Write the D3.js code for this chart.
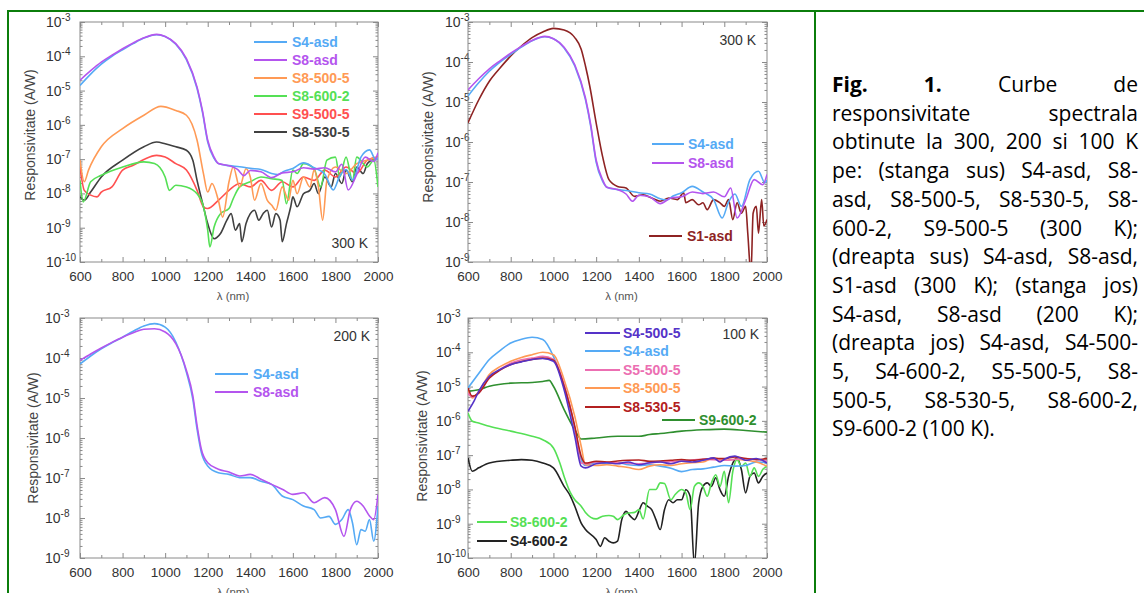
<!DOCTYPE html>
<html>
<head>
<meta charset="utf-8">
<script src="https://cdn.jsdelivr.net/npm/d3@7"></script>
<style>
  body { margin: 0; background: #fff; }
  svg { display: block; }
</style>
</head>
<body>
<div id="fig"></div>
<script>
// values are log10 of the responsivity (A/W)
// [wavelength nm, log10 R]

// ---- 300 K, shared by the two top panels
const s4asd300 = [[600,-4.85],[650,-4.52],[700,-4.23],[750,-4.0],[800,-3.81],[850,-3.63],[900,-3.47],[960,-3.37],[1000,-3.42],[1050,-3.65],[1100,-4.10],[1150,-4.94],[1175,-5.62],[1200,-6.50],[1230,-6.98],[1250,-7.13],[1300,-7.19],[1350,-7.22],[1400,-7.27],[1450,-7.30],[1500,-7.42],[1530,-7.45],[1560,-7.35],[1600,-7.27],[1650,-7.11],[1700,-7.25],[1750,-7.44],[1790,-7.90],[1820,-7.50],[1850,-7.30],[1880,-7.61],[1920,-6.94],[1960,-6.73],[1990,-7.02],[2000,-6.95]];
const s8asd300 = [[600,-4.70],[650,-4.42],[700,-4.17],[750,-3.97],[800,-3.78],[850,-3.61],[900,-3.46],[960,-3.36],[1000,-3.42],[1050,-3.63],[1100,-4.07],[1150,-4.90],[1175,-5.58],[1200,-6.45],[1230,-6.94],[1250,-7.13],[1300,-7.19],[1340,-7.30],[1370,-7.48],[1400,-7.33],[1450,-7.37],[1500,-7.54],[1550,-7.40],[1600,-7.37],[1650,-7.25],[1700,-7.29],[1750,-7.25],[1800,-7.37],[1830,-7.15],[1860,-7.90],[1900,-7.45],[1940,-6.94],[1980,-7.07],[2000,-6.81]];
const s1asd300 = [[600,-5.52],[650,-4.95],[700,-4.48],[750,-4.15],[800,-3.85],[850,-3.60],[900,-3.39],[950,-3.25],[1000,-3.16],[1050,-3.20],[1100,-3.39],[1130,-3.68],[1150,-4.10],[1170,-4.60],[1200,-5.52],[1230,-6.36],[1260,-6.94],[1300,-7.11],[1340,-7.15],[1380,-7.36],[1420,-7.32],[1460,-7.40],[1500,-7.48],[1540,-7.40],[1580,-7.44],[1610,-7.27],[1620,-7.52],[1650,-7.44],[1680,-7.57],[1700,-7.52],[1720,-7.69],[1750,-7.44],[1780,-7.52],[1800,-7.61],[1820,-7.44],[1840,-7.94],[1860,-7.52],[1880,-7.78],[1900,-7.61],[1910,-8.28],[1925,-9.3],[1935,-7.78],[1950,-7.61],[1960,-8.28],[1975,-7.44],[1985,-8.10],[2000,-7.94]];
const s8_500_5_300 = [[600,-7.03],[620,-7.66],[640,-7.32],[700,-6.64],[800,-6.11],[900,-5.72],[980,-5.46],[1050,-5.58],[1100,-5.72],[1150,-6.45],[1180,-7.42],[1200,-7.96],[1220,-7.71],[1250,-8.20],[1270,-8.69],[1300,-7.66],[1320,-7.23],[1350,-7.81],[1380,-7.28],[1400,-7.52],[1420,-8.20],[1450,-7.71],[1480,-8.20],[1500,-8.34],[1520,-8.49],[1550,-7.81],[1580,-8.20],[1600,-7.62],[1620,-8.01],[1650,-7.52],[1680,-7.81],[1700,-7.32],[1720,-7.81],[1740,-8.78],[1760,-7.62],[1800,-7.23],[1850,-7.42],[1900,-7.13],[1950,-7.03],[2000,-6.94]];
const s8_600_2_300 = [[600,-7.62],[615,-8.25],[650,-7.66],[700,-7.47],[800,-7.23],[900,-7.08],[950,-7.13],[1000,-7.52],[1020,-7.91],[1050,-7.76],[1100,-7.81],[1150,-8.01],[1180,-8.39],[1200,-9.07],[1210,-9.56],[1230,-8.98],[1260,-8.59],[1300,-8.44],[1320,-8.15],[1350,-7.81],[1400,-7.66],[1450,-7.52],[1500,-7.57],[1550,-7.62],[1570,-8.30],[1600,-7.32],[1620,-7.42],[1650,-7.13],[1700,-7.28],[1730,-7.81],[1760,-7.03],[1800,-6.94],[1820,-7.52],[1850,-6.94],[1880,-7.62],[1900,-6.94],[1950,-7.23],[1980,-7.03],[2000,-7.81]];
const s9_500_5_300 = [[600,-7.23],[620,-7.91],[650,-8.05],[680,-8.10],[700,-7.96],[750,-7.81],[800,-7.32],[850,-7.18],[900,-7.01],[960,-6.89],[1000,-6.94],[1050,-7.13],[1100,-7.32],[1150,-7.91],[1180,-8.39],[1200,-8.44],[1250,-8.20],[1300,-7.91],[1350,-7.71],[1400,-7.81],[1450,-7.62],[1500,-7.91],[1550,-7.66],[1600,-7.81],[1650,-7.52],[1700,-7.62],[1750,-7.32],[1800,-7.52],[1850,-7.23],[1900,-7.42],[1950,-7.03],[2000,-6.94]];
const s8_530_5_300 = [[600,-8.10],[620,-8.20],[650,-7.96],[700,-7.52],[800,-7.03],[900,-6.64],[960,-6.50],[1000,-6.55],[1050,-6.64],[1100,-6.74],[1130,-7.03],[1150,-7.62],[1180,-8.39],[1200,-8.88],[1230,-9.32],[1260,-9.17],[1290,-8.78],[1310,-8.59],[1330,-9.07],[1350,-8.88],[1360,-9.41],[1380,-8.88],[1400,-8.59],[1420,-8.49],[1440,-8.78],[1460,-8.59],[1480,-8.49],[1500,-8.98],[1520,-8.59],[1540,-8.78],[1550,-9.41],[1570,-8.88],[1590,-8.39],[1600,-8.10],[1620,-8.39],[1650,-8.01],[1680,-7.91],[1700,-7.71],[1720,-8.01],[1750,-7.52],[1780,-7.81],[1800,-7.42],[1830,-7.71],[1850,-7.32],[1880,-7.66],[1900,-7.23],[1930,-7.42],[1950,-7.13],[2000,-6.94]];

// ---- 200 K
const s4asd200 = [[600,-4.15],[650,-3.95],[700,-3.77],[750,-3.62],[800,-3.48],[850,-3.33],[900,-3.20],[950,-3.14],[1000,-3.23],[1050,-3.60],[1100,-4.36],[1130,-5.03],[1150,-5.78],[1170,-6.36],[1200,-6.70],[1250,-6.87],[1300,-6.91],[1350,-6.99],[1400,-6.99],[1450,-7.08],[1500,-7.16],[1550,-7.45],[1600,-7.54],[1650,-7.70],[1700,-7.79],[1730,-8.00],[1770,-7.96],[1800,-8.16],[1830,-8.04],[1860,-7.79],[1880,-8.12],[1900,-8.67],[1920,-8.29],[1940,-8.33],[1960,-8.04],[1980,-8.58],[2000,-7.70]];
const s8asd200 = [[600,-4.06],[650,-3.90],[700,-3.75],[750,-3.61],[800,-3.48],[850,-3.37],[900,-3.28],[950,-3.27],[1000,-3.35],[1050,-3.64],[1100,-4.31],[1130,-4.94],[1150,-5.69],[1170,-6.28],[1200,-6.62],[1250,-6.78],[1300,-6.85],[1350,-6.95],[1400,-6.91],[1450,-7.03],[1500,-7.16],[1550,-7.28],[1600,-7.41],[1650,-7.37],[1700,-7.62],[1750,-7.49],[1800,-7.79],[1840,-8.46],[1870,-7.79],[1900,-7.58],[1930,-7.70],[1960,-7.95],[1980,-8.04],[2000,-7.41]];

// ---- 100 K
const s4_500_5_100 = [[600,-5.72],[630,-5.40],[650,-5.14],[700,-4.70],[750,-4.50],[800,-4.36],[850,-4.28],[900,-4.21],[950,-4.18],[1000,-4.26],[1050,-5.09],[1100,-6.45],[1130,-7.32],[1150,-7.37],[1200,-7.25],[1250,-7.22],[1300,-7.25],[1350,-7.20],[1400,-7.28],[1450,-7.22],[1500,-7.20],[1550,-7.25],[1600,-7.18],[1650,-7.20],[1700,-7.15],[1750,-7.08],[1780,-7.20],[1800,-7.12],[1850,-7.03],[1880,-7.10],[1900,-7.15],[1950,-7.10],[2000,-7.23]];
const s4asd100 = [[600,-5.04],[650,-4.62],[700,-4.21],[750,-3.95],[800,-3.73],[850,-3.62],[900,-3.56],[950,-3.63],[1000,-4.12],[1050,-5.00],[1080,-5.67],[1100,-6.26],[1130,-7.13],[1150,-7.30],[1200,-7.22],[1250,-7.25],[1300,-7.22],[1350,-7.28],[1400,-7.30],[1450,-7.28],[1500,-7.32],[1550,-7.38],[1600,-7.48],[1650,-7.42],[1700,-7.40],[1750,-7.35],[1800,-7.30],[1850,-7.32],[1900,-7.30],[1950,-7.20],[2000,-7.22]];
const s5_500_5_100 = [[600,-5.19],[620,-5.30],[650,-5.19],[700,-4.75],[750,-4.50],[800,-4.32],[850,-4.22],[900,-4.17],[950,-4.12],[1000,-4.20],[1050,-4.95],[1100,-6.20],[1130,-7.23],[1150,-7.25],[1200,-7.20],[1300,-7.22],[1400,-7.25],[1500,-7.20],[1600,-7.18],[1700,-7.12],[1800,-7.15],[1900,-7.10],[2000,-7.18]];
const s8_500_5_100 = [[600,-5.09],[620,-5.33],[650,-5.15],[700,-4.65],[750,-4.42],[800,-4.26],[850,-4.15],[900,-4.07],[950,-4.00],[1000,-4.07],[1050,-4.80],[1100,-5.87],[1130,-6.74],[1150,-7.28],[1200,-7.30],[1250,-7.28],[1300,-7.32],[1350,-7.36],[1400,-7.42],[1450,-7.32],[1500,-7.28],[1550,-7.30],[1600,-7.25],[1650,-7.22],[1700,-7.20],[1750,-7.08],[1800,-7.15],[1850,-7.12],[1900,-7.15],[1950,-7.20],[2000,-7.32]];
const s8_530_5_100 = [[600,-5.04],[620,-5.28],[650,-5.19],[700,-4.75],[750,-4.52],[800,-4.36],[850,-4.27],[900,-4.21],[950,-4.17],[1000,-4.23],[1050,-4.99],[1100,-6.16],[1130,-7.03],[1150,-7.23],[1200,-7.18],[1250,-7.20],[1300,-7.17],[1350,-7.15],[1400,-7.14],[1450,-7.18],[1500,-7.17],[1550,-7.15],[1600,-7.13],[1650,-7.15],[1700,-7.12],[1750,-7.10],[1800,-7.10],[1850,-7.05],[1900,-7.10],[1950,-7.13],[2000,-7.10]];
const s9_600_2_100 = [[600,-5.14],[650,-5.09],[700,-4.99],[800,-4.90],[900,-4.88],[950,-4.85],[980,-4.82],[1000,-4.99],[1050,-5.67],[1100,-6.26],[1130,-6.53],[1200,-6.50],[1300,-6.45],[1400,-6.45],[1450,-6.40],[1500,-6.37],[1600,-6.30],[1700,-6.26],[1800,-6.24],[1900,-6.28],[2000,-6.33]];
const s8_600_2_100 = [[600,-5.77],[620,-6.01],[650,-6.06],[700,-6.16],[800,-6.30],[900,-6.45],[950,-6.55],[1000,-6.79],[1030,-7.23],[1050,-7.62],[1080,-8.10],[1100,-8.30],[1130,-8.49],[1150,-8.67],[1200,-8.86],[1230,-8.78],[1260,-8.76],[1280,-8.78],[1300,-8.88],[1330,-8.74],[1350,-8.69],[1380,-8.67],[1400,-8.59],[1420,-8.86],[1450,-8.00],[1480,-8.00],[1500,-7.81],[1520,-7.83],[1550,-8.30],[1570,-8.15],[1600,-8.00],[1620,-8.10],[1640,-8.59],[1660,-7.91],[1680,-7.81],[1700,-7.91],[1720,-8.20],[1740,-7.81],[1760,-7.57],[1780,-7.91],[1800,-7.47],[1820,-8.39],[1840,-7.47],[1860,-7.13],[1880,-7.33],[1900,-7.23],[1920,-7.62],[1940,-7.37],[1960,-7.62],[1980,-7.42],[2000,-7.33]];
const s4_600_2_100 = [[600,-7.08],[620,-7.47],[650,-7.37],[700,-7.23],[800,-7.15],[850,-7.13],[900,-7.15],[950,-7.23],[1000,-7.37],[1050,-7.91],[1080,-8.20],[1100,-8.49],[1130,-8.98],[1150,-9.17],[1200,-9.46],[1220,-9.66],[1240,-9.41],[1260,-9.51],[1280,-9.56],[1300,-9.51],[1320,-8.88],[1340,-8.64],[1360,-8.78],[1380,-8.88],[1400,-8.64],[1420,-8.39],[1440,-8.49],[1460,-8.59],[1480,-8.88],[1500,-9.17],[1520,-8.59],[1540,-8.30],[1560,-8.39],[1580,-8.30],[1600,-8.30],[1620,-8.01],[1640,-8.20],[1660,-10.2],[1680,-8.39],[1700,-7.91],[1720,-7.81],[1740,-7.91],[1760,-7.66],[1780,-8.01],[1800,-8.20],[1820,-7.62],[1840,-7.23],[1860,-7.08],[1880,-7.42],[1900,-8.10],[1920,-7.62],[1940,-7.52],[1960,-7.81],[1980,-7.62],[2000,-7.52]];

const xTicks = [600, 800, 1000, 1200, 1400, 1600, 1800, 2000];
const captionLines = [
  "Fig. 1. Curbe de",
  "responsivitate spectrala",
  "obtinute la 300, 200 si 100 K",
  "pe: (stanga sus) S4-asd, S8-",
  "asd, S8-500-5, S8-530-5, S8-",
  "600-2, S9-500-5 (300 K);",
  "(dreapta sus) S4-asd, S8-asd,",
  "S1-asd (300 K); (stanga jos)",
  "S4-asd, S8-asd (200 K);",
  "(dreapta jos) S4-asd, S4-500-",
  "5, S4-600-2, S5-500-5, S8-",
  "500-5, S8-530-5, S8-600-2,",
  "S9-600-2 (100 K)."
];

const C = {
  blue: "#55aaf5", purple: "#b455ee", orange: "#ff9a55", green: "#55e055",
  red: "#ff5050", gray: "#404040", brown: "#8e2323", indigo: "#5533c8",
  pink: "#ec6fb2", darkred: "#b32020", dgreen: "#2f8f2f", black: "#222"
};

const W = 1144, H = 593;
const svg = d3.select("#fig").append("svg").attr("width", W).attr("height", H);
const font = "'Liberation Sans', Arial, sans-serif";

const panels = [
  { x0: 80, x1: 378, y0: 22, y1: 262, minExp: -10, labX: 46, ylabX: 30, ylabY: 135, xlabY: 300,
    temp: { text: "300 K", x: 368, y: 248 },
    series: [
      { d: s8_530_5_300, c: C.gray }, { d: s9_500_5_300, c: C.red }, { d: s8_600_2_300, c: C.green },
      { d: s8_500_5_300, c: C.orange }, { d: s4asd300, c: C.blue }, { d: s8asd300, c: C.purple }
    ],
    legend: [
      { t: "S4-asd", c: C.blue, x1: 254, x2: 287, tx: 292, y: 42 },
      { t: "S8-asd", c: C.purple, x1: 254, x2: 287, tx: 292, y: 60 },
      { t: "S8-500-5", c: C.orange, x1: 254, x2: 287, tx: 292, y: 78 },
      { t: "S8-600-2", c: C.green, x1: 254, x2: 287, tx: 292, y: 96 },
      { t: "S9-500-5", c: C.red, x1: 254, x2: 287, tx: 292, y: 114 },
      { t: "S8-530-5", c: C.gray, x1: 254, x2: 287, tx: 292, y: 132 }
    ] },
  { x0: 468, x1: 767, y0: 22, y1: 262, minExp: -9, labX: 445, ylabX: 428, ylabY: 137, xlabY: 300,
    temp: { text: "300 K", x: 756, y: 45 },
    series: [
      { d: s1asd300, c: C.brown }, { d: s4asd300, c: C.blue }, { d: s8asd300, c: C.purple }
    ],
    legend: [
      { t: "S4-asd", c: C.blue, x1: 652, x2: 684, tx: 688, y: 144 },
      { t: "S8-asd", c: C.purple, x1: 652, x2: 684, tx: 688, y: 163 },
      { t: "S1-asd", c: C.brown, x1: 649, x2: 682, tx: 687, y: 236 }
    ] },
  { x0: 80, x1: 378, y0: 318, y1: 558, minExp: -9, labX: 45, ylabX: 33, ylabY: 438, xlabY: 596,
    temp: { text: "200 K", x: 370, y: 341 },
    series: [
      { d: s4asd200, c: C.blue }, { d: s8asd200, c: C.purple }
    ],
    legend: [
      { t: "S4-asd", c: C.blue, x1: 215, x2: 248, tx: 253, y: 374 },
      { t: "S8-asd", c: C.purple, x1: 215, x2: 248, tx: 253, y: 392 }
    ] },
  { x0: 468, x1: 767, y0: 318, y1: 558, minExp: -10, labX: 436, ylabX: 422, ylabY: 436, xlabY: 596,
    temp: { text: "100 K", x: 759, y: 339 },
    series: [
      { d: s4_600_2_100, c: C.black }, { d: s8_600_2_100, c: C.green }, { d: s9_600_2_100, c: C.dgreen },
      { d: s4asd100, c: C.blue }, { d: s8_500_5_100, c: C.orange }, { d: s5_500_5_100, c: C.pink },
      { d: s8_530_5_100, c: C.darkred }, { d: s4_500_5_100, c: C.indigo }
    ],
    legend: [
      { t: "S4-500-5", c: C.indigo, x1: 585, x2: 620, tx: 623, y: 333 },
      { t: "S4-asd", c: C.blue, x1: 585, x2: 620, tx: 623, y: 351 },
      { t: "S5-500-5", c: C.pink, x1: 585, x2: 620, tx: 623, y: 370 },
      { t: "S8-500-5", c: C.orange, x1: 585, x2: 620, tx: 623, y: 388 },
      { t: "S8-530-5", c: C.darkred, x1: 585, x2: 620, tx: 623, y: 407 },
      { t: "S9-600-2", c: C.dgreen, x1: 662, x2: 695, tx: 699, y: 420 },
      { t: "S8-600-2", c: C.green, x1: 477, x2: 507, tx: 510, y: 522 },
      { t: "S4-600-2", c: C.black, x1: 477, x2: 507, tx: 510, y: 541 }
    ] }
];

panels.forEach((p, i) => drawPanel(p, i));

function drawPanel(p, i) {
  const x = d3.scaleLinear().domain([600, 2000]).range([p.x0, p.x1]);
  const y = d3.scaleLog().domain([Math.pow(10, p.minExp), 1e-3]).range([p.y1, p.y0]);
  const g = svg.append("g").attr("font-family", font);

  const exps = d3.range(p.minExp, -2);
  const majorY = exps.map(e => Math.pow(10, e));
  const minorY = [];
  exps.slice(0, -1).forEach(e => { for (let k = 2; k < 10; k++) minorY.push(k * Math.pow(10, e)); });
  const minorX = d3.range(700, 2000, 200);

  const axisColor = "#8a8a8a";
  function styleAxis(a) {
    a.select(".domain").remove();
    a.selectAll(".tick line").attr("stroke", axisColor);
  }
  // ticks, all pointing inwards
  g.append("g").attr("transform", `translate(0,${p.y1})`)
    .call(d3.axisBottom(x).tickValues(xTicks).tickSize(-5).tickSizeOuter(0).tickPadding(9).tickFormat(d3.format("d")))
    .call(styleAxis)
    .call(a => a.selectAll("text").attr("fill", "#333").attr("font-size", 13.5).attr("font-family", font));
  g.append("g").attr("transform", `translate(0,${p.y1})`)
    .call(d3.axisBottom(x).tickValues(minorX).tickSize(-3).tickFormat(""))
    .call(styleAxis);
  g.append("g").attr("transform", `translate(0,${p.y0})`)
    .call(d3.axisTop(x).tickValues(xTicks).tickSize(-5).tickFormat(""))
    .call(styleAxis);
  g.append("g").attr("transform", `translate(0,${p.y0})`)
    .call(d3.axisTop(x).tickValues(minorX).tickSize(-3).tickFormat(""))
    .call(styleAxis);
  g.append("g").attr("transform", `translate(${p.x0},0)`)
    .call(d3.axisLeft(y).tickValues(majorY).tickSize(-5).tickFormat(""))
    .call(styleAxis);
  g.append("g").attr("transform", `translate(${p.x0},0)`)
    .call(d3.axisLeft(y).tickValues(minorY).tickSize(-2.5).tickFormat(""))
    .call(styleAxis);
  g.append("g").attr("transform", `translate(${p.x1},0)`)
    .call(d3.axisRight(y).tickValues(majorY).tickSize(-5).tickFormat(""))
    .call(styleAxis);
  g.append("g").attr("transform", `translate(${p.x1},0)`)
    .call(d3.axisRight(y).tickValues(minorY).tickSize(-2.5).tickFormat(""))
    .call(styleAxis);

  // y tick labels 10^n
  exps.forEach(e => {
    const t = g.append("text").attr("x", p.labX).attr("y", y(Math.pow(10, e)) + 5)
      .attr("fill", "#333").attr("font-size", 14);
    t.append("tspan").text("10");
    t.append("tspan").attr("dy", -6).attr("font-size", 10).text("-" + Math.abs(e));
  });

  // frame
  g.append("rect").attr("x", p.x0).attr("y", p.y0)
    .attr("width", p.x1 - p.x0).attr("height", p.y1 - p.y0)
    .attr("fill", "none").attr("stroke", axisColor).attr("stroke-width", 1);

  // axis titles
  g.append("text").attr("transform", `translate(${p.ylabX},${p.ylabY}) rotate(-90)`)
    .attr("text-anchor", "middle").attr("dominant-baseline", "central")
    .attr("fill", "#444").attr("font-size", 14).text("Responsivitate (A/W)");
  g.append("text").attr("x", (p.x0 + p.x1) / 2 + 4).attr("y", p.xlabY)
    .attr("text-anchor", "middle").attr("fill", "#555").attr("font-size", 11.5).text("λ (nm)");

  // curves
  const clipId = "clip" + i;
  svg.append("clipPath").attr("id", clipId).append("rect")
    .attr("x", p.x0).attr("y", p.y0).attr("width", p.x1 - p.x0).attr("height", p.y1 - p.y0);
  const line = d3.line().curve(d3.curveMonotoneX)
    .x(d => x(d[0])).y(d => y(Math.pow(10, d[1])));
  g.append("g").attr("clip-path", `url(#${clipId})`)
    .selectAll("path").data(p.series).join("path")
    .attr("d", s => line(s.d)).attr("fill", "none")
    .attr("stroke", s => s.c).attr("stroke-width", 1.6).attr("stroke-linejoin", "round");

  // legend
  const lg = g.append("g").selectAll("g").data(p.legend).join("g");
  lg.append("line").attr("x1", d => d.x1).attr("x2", d => d.x2)
    .attr("y1", d => d.y).attr("y2", d => d.y)
    .attr("stroke", d => d.c).attr("stroke-width", 2);
  lg.append("text").attr("x", d => d.tx).attr("y", d => d.y).attr("dy", "0.36em")
    .attr("fill", d => d.c).attr("font-weight", "bold").attr("font-size", 14).text(d => d.t);

  g.append("text").attr("x", p.temp.x).attr("y", p.temp.y).attr("text-anchor", "end")
    .attr("fill", "#333").attr("font-size", 14).text(p.temp.text);
}

// table borders
const borderColor = "#0b7d0b";
svg.append("rect").attr("x", 7).attr("y", 10).attr("width", W - 7).attr("height", 2).attr("fill", borderColor);
svg.append("rect").attr("x", 7).attr("y", 10).attr("width", 2).attr("height", H - 10).attr("fill", borderColor);
svg.append("rect").attr("x", 814).attr("y", 10).attr("width", 2).attr("height", H - 10).attr("fill", borderColor);

// caption, justified line by line
const capLeft = 832, capRight = 1138, capTop = 92, capStep = 28.7;
const capFont = "'Open Sans', 'Noto Sans', sans-serif";
const capSize = 21;

const cap = svg.append("g").attr("font-family", capFont).attr("font-size", capSize).attr("fill", "#000");
captionLines.forEach((ln, li) => {
  const yy = capTop + li * capStep;
  if (li === captionLines.length - 1) {
    cap.append("text").attr("x", capLeft).attr("y", yy).text(ln);
    return;
  }
  const words = ln.split(" ");
  const nodes = words.map((w, wi) => cap.append("text").attr("y", yy)
    .attr("font-weight", li === 0 && wi < 2 ? "bold" : null).text(w));
  const widths = nodes.map(n => n.node().getComputedTextLength());
  const gap = (capRight - capLeft - d3.sum(widths)) / (words.length - 1);
  let cx = capLeft;
  nodes.forEach((n, k) => { n.attr("x", cx); cx += widths[k] + gap; });
});
</script>
</body>
</html>
